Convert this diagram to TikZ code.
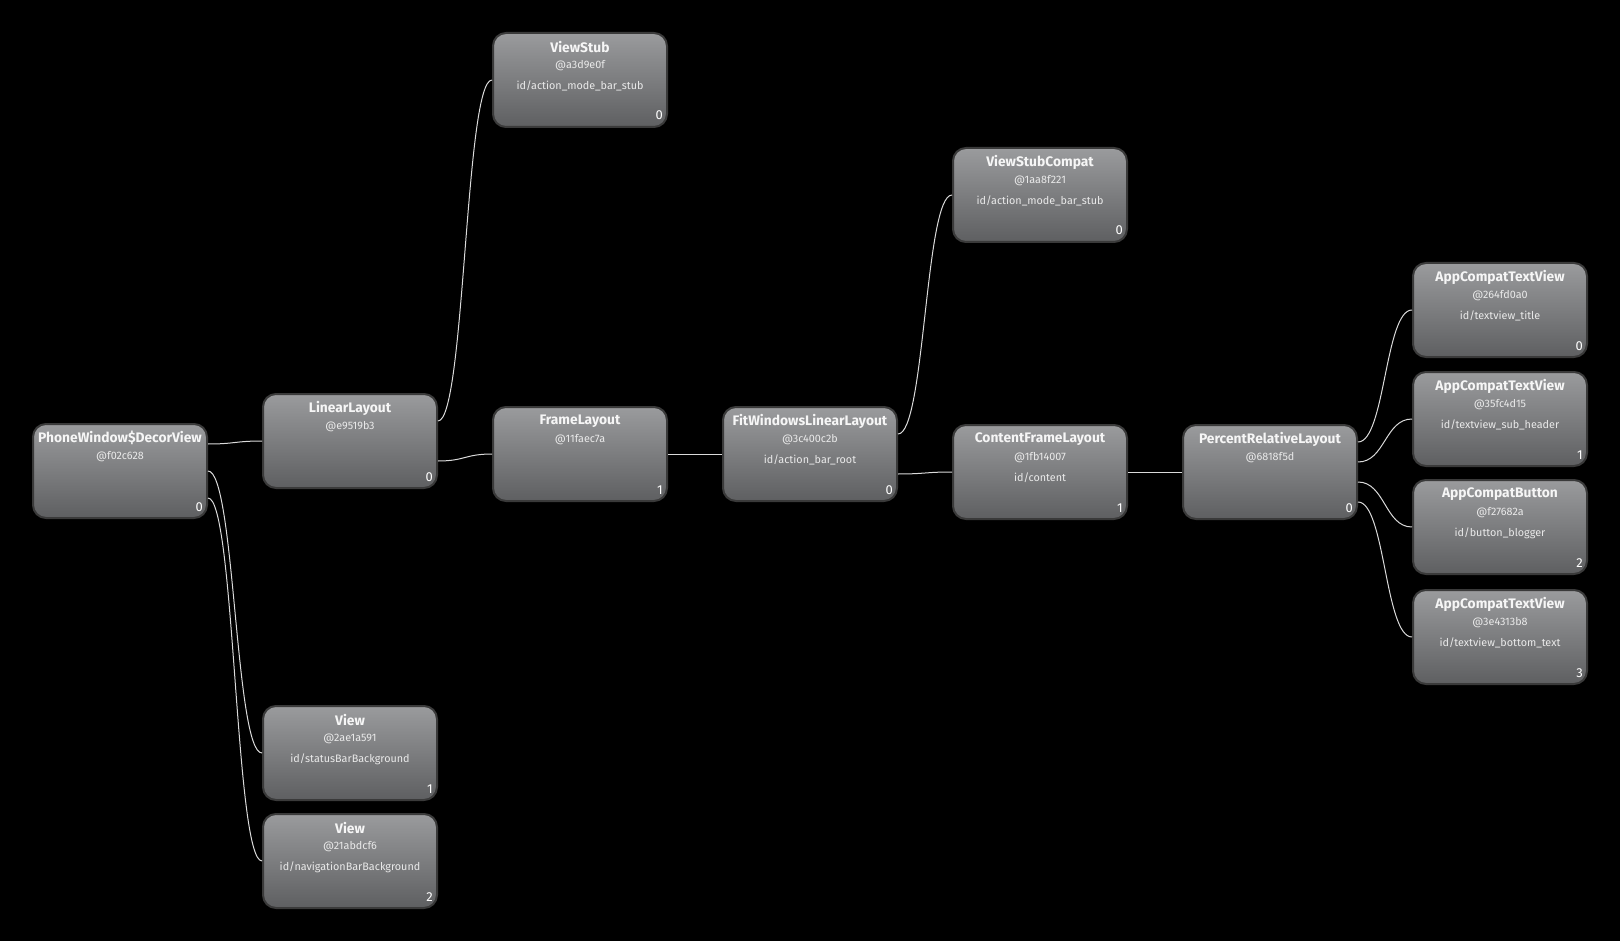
\documentclass[tikz,border=0pt]{standalone}
\usepackage{fontspec}
\setmainfont{Fira Sans}
\usetikzlibrary{calc}
\definecolor{boxtop}{HTML}{9A9B9D}
\definecolor{boxbot}{HTML}{5E5F61}
\definecolor{boxborder}{HTML}{3A3A3A}
\definecolor{txt}{HTML}{F6F6F6}
\definecolor{subtxt}{HTML}{EAEAEA}
\definecolor{conncol}{HTML}{DADADA}
\tikzset{
 vbox/.style={draw=boxborder, line width=2pt, rounded corners=13pt, top color=boxtop, bottom color=boxbot, minimum width=174pt, minimum height=94pt, inner sep=0pt},
 vtitle/.style={text=txt, font=\bfseries\fontsize{13.8}{16}\selectfont, inner sep=0pt},
 vsub/.style={text=subtxt, font=\fontsize{10.8}{13}\selectfont, inner sep=0pt},
 vidx/.style={text=white, font=\fontsize{13}{15}\selectfont, inner sep=0pt, anchor=base east},
 conn/.style={draw=conncol, line width=1pt},
}
\newcommand\vnode[7]{%
 \node[vbox] (#1) at (#2,#3) {};
 \node[vtitle] (#1-t) at ($(#1)+(0,-33)$) {#4};
 \node[vsub] (#1-h) at ($(#1)+(0,-14)$) {#5};
 \node[vsub] (#1-i) at ($(#1)+(0,6)$) {#6};
 \node[vidx] (#1-n) at ($(#1)+(83,40)$) {#7};
}
\begin{document}
\begin{tikzpicture}[x=1pt,y=-1pt]
\fill[black] (0,0) rectangle (1620,941);
\useasboundingbox (0,0) rectangle (1620,941);
\vnode{pw}{120}{471}{PhoneWindow\$DecorView}{@f02c628}{}{0}
\vnode{ll}{350}{441}{LinearLayout}{@e9519b3}{}{0}
\vnode{vs}{580}{80}{ViewStub}{@a3d9e0f}{id/action\_mode\_bar\_stub}{0}
\vnode{fl}{580}{454}{FrameLayout}{@11faec7a}{}{1}
\vnode{fw}{810}{454}{FitWindowsLinearLayout}{@3c400c2b}{id/action\_bar\_root}{0}
\vnode{vsc}{1040}{195}{ViewStubCompat}{@1aa8f221}{id/action\_mode\_bar\_stub}{0}
\vnode{cfl}{1040}{472}{ContentFrameLayout}{@1fb14007}{id/content}{1}
\vnode{prl}{1270}{472}{PercentRelativeLayout}{@6818f5d}{}{0}
\vnode{ta}{1500}{310}{AppCompatTextView}{@264fd0a0}{id/textview\_title}{0}
\vnode{tb}{1500}{419}{AppCompatTextView}{@35fc4d15}{id/textview\_sub\_header}{1}
\vnode{bc}{1500}{527}{AppCompatButton}{@f27682a}{id/button\_blogger}{2}
\vnode{td}{1500}{637}{AppCompatTextView}{@3e4313b8}{id/textview\_bottom\_text}{3}
\vnode{va}{350}{753}{View}{@2ae1a591}{id/statusBarBackground}{1}
\vnode{vb}{350}{861}{View}{@21abdcf6}{id/navigationBarBackground}{2}
% connectors
\draw[conn] ([yshift=27pt]pw.east) .. controls +(27,0) and +(-27,0) .. (ll.west);
\draw[conn] (pw.east) .. controls +(27,0) and +(-27,0) .. (va.west);
\draw[conn] ([yshift=-27pt]pw.east) .. controls +(27,0) and +(-27,0) .. (vb.west);
\draw[conn] ([yshift=20pt]ll.east) .. controls +(27,0) and +(-27,0) .. (vs.west);
\draw[conn] ([yshift=-20pt]ll.east) .. controls +(27,0) and +(-27,0) .. (fl.west);
\draw[conn] (fl.east) .. controls +(27,0) and +(-27,0) .. (fw.west);
\draw[conn] ([yshift=20pt]fw.east) .. controls +(27,0) and +(-27,0) .. (vsc.west);
\draw[conn] ([yshift=-20pt]fw.east) .. controls +(27,0) and +(-27,0) .. (cfl.west);
\draw[conn] (cfl.east) .. controls +(27,0) and +(-27,0) .. (prl.west);
\draw[conn] ([yshift=30pt]prl.east) .. controls +(27,0) and +(-27,0) .. (ta.west);
\draw[conn] ([yshift=10pt]prl.east) .. controls +(27,0) and +(-27,0) .. (tb.west);
\draw[conn] ([yshift=-10pt]prl.east) .. controls +(27,0) and +(-27,0) .. (bc.west);
\draw[conn] ([yshift=-30pt]prl.east) .. controls +(27,0) and +(-27,0) .. (td.west);
\end{tikzpicture}
\end{document}
